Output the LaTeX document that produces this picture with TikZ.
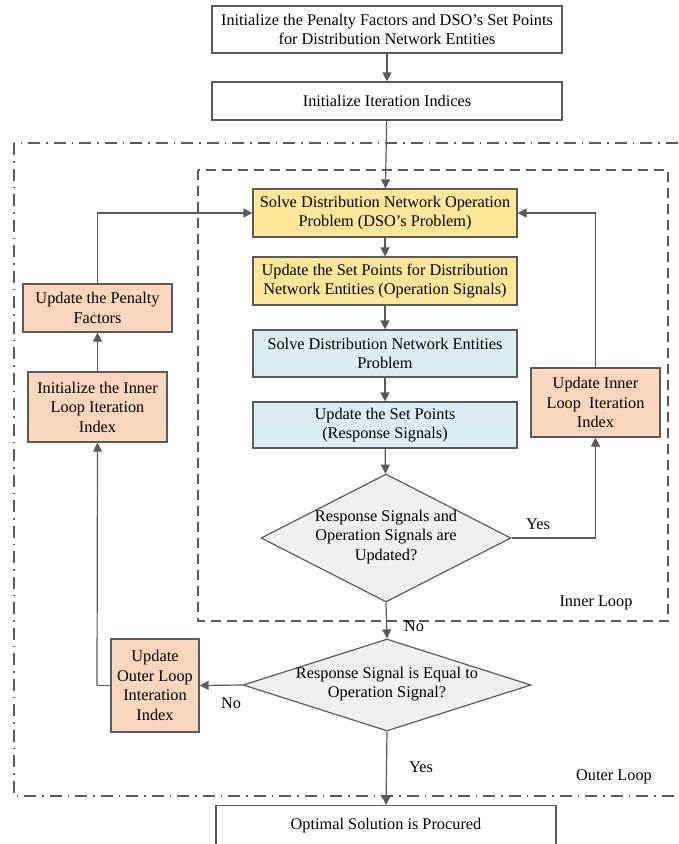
\documentclass[tikz,border=0pt]{standalone}
\usepackage{fontspec}
\setmainfont{Liberation Serif}
\usetikzlibrary{shapes.geometric,arrows.meta}
\definecolor{lc}{HTML}{5A5A5A}
\definecolor{yel}{HTML}{FFE699}
\definecolor{blu}{HTML}{DCEDF4}
\definecolor{ora}{HTML}{F9D6BC}
\definecolor{dia}{HTML}{F0F0F0}
\begin{document}
\begin{tikzpicture}[x=1pt,y=-1pt,
  every node/.style={font=\fontsize{16.3}{19.5}\selectfont, align=center, inner sep=1pt},
  bx/.style={draw=lc, line width=1.2pt, rectangle},
  wbox/.style={bx, fill=white},
  ybox/.style={bx, fill=yel},
  bbox/.style={bx, fill=blu},
  obox/.style={bx, fill=ora},
  dbox/.style={draw=lc, line width=1.2pt, diamond, fill=dia, aspect=2.2, inner sep=0pt},
  conn/.style={draw=lc, line width=1.2pt, -{Triangle[length=9pt,width=9pt]}},
  plain/.style={draw=lc, line width=1.2pt},
  lbl/.style={font=\fontsize{16.3}{19}\selectfont}]
\useasboundingbox (0,0) rectangle (678,844);
\clip (0,0) rectangle (678,844);
% loops
\draw[lc, line width=1.2pt, dash pattern=on 12pt off 6pt on 1.5pt off 6pt] (14,143) rectangle (700,796);
\draw[lc, line width=1.2pt, dash pattern=on 10pt off 6pt] (198,170) rectangle (668,621);
\node[lbl] (innerlbl) at (596,603) {Inner Loop};
\node[lbl] (outerlbl) at (614,777) {Outer Loop};
% nodes
\node[wbox, minimum width=350pt, minimum height=47pt] (init) at (387,29.5) {Initialize the Penalty Factors and DSO’s Set Points\\for Distribution Network Entities};
\node[wbox, minimum width=350pt, minimum height=38pt] (iter) at (387,101) {Initialize Iteration Indices};
\node[ybox, minimum width=264pt, minimum height=48pt] (y1) at (385,213) {Solve Distribution Network Operation\\Problem (DSO’s Problem)};
\node[ybox, minimum width=264pt, minimum height=48pt] (y2) at (385,281) {Update the Set Points for Distribution\\Network Entities (Operation Signals)};
\node[bbox, minimum width=264pt, minimum height=47pt] (b1) at (385,353.5) {Solve Distribution Network Entities\\Problem};
\node[bbox, minimum width=264pt, minimum height=46pt] (b2) at (385,425) {Update the Set Points\\(Response Signals)};
\node[dbox, minimum width=250pt, minimum height=128pt] (d1) at (386,538) {};
\node (d1t) at (386,537) {Response Signals and\\Operation Signals are\\Updated?};
\node[dbox, minimum width=288pt, minimum height=92pt] (d2) at (387,685) {};
\node (d2t) at (387,684) {Response Signal is Equal to\\Operation Signal?};
\node[obox, minimum width=129pt, minimum height=69pt] (ir) at (595.5,402.5) {Update Inner\\Loop\ \ Iteration\\Index};
\node[obox, minimum width=88pt, minimum height=93pt] (ou) at (155,685.5) {Update\\Outer Loop\\Interation\\Index};
\node[obox, minimum width=139pt, minimum height=70pt] (ii) at (97.5,407) {Initialize the Inner\\Loop Iteration\\Index};
\node[obox, minimum width=149pt, minimum height=48pt] (pf) at (97.5,308) {Update the Penalty\\Factors};
\node[wbox, minimum width=340pt, minimum height=50pt, anchor=north] (fin) at (386,805) {};
\node (fint) at (386,826) {Optimal Solution is Procured};
% connectors
\draw[conn] (init) -- (iter);
\draw[conn] (iter) -- (y1);
\draw[conn] (y1) -- (y2);
\draw[conn] (y2) -- (b1);
\draw[conn] (b1) -- (b2);
\draw[conn] (b2) -- (d1);
\draw[conn] (d1.east) -| (ir.south);
\draw[conn] (ir.north) |- (y1.east);
\draw[conn] (d1.south) -- (d2.north);
\draw[conn] (d2.west) -- (ou.east);
\coordinate (oul) at (97,685.5);
\draw[plain] (ou.west) -- (oul);
\draw[conn] (oul) -- (ii.south);
\draw[conn] (ii.north) -- (pf.south);
\draw[conn] (pf.north) |- (y1.west);
\draw[conn] (d2.south) -- (fin.north);
% labels
\node[lbl] (yes1) at (538,524) {Yes};
\node[lbl] (no1) at (414,626) {No};
\node[lbl] (no2) at (231,703) {No};
\node[lbl] (yes2) at (421,767) {Yes};
\end{tikzpicture}
\end{document}
